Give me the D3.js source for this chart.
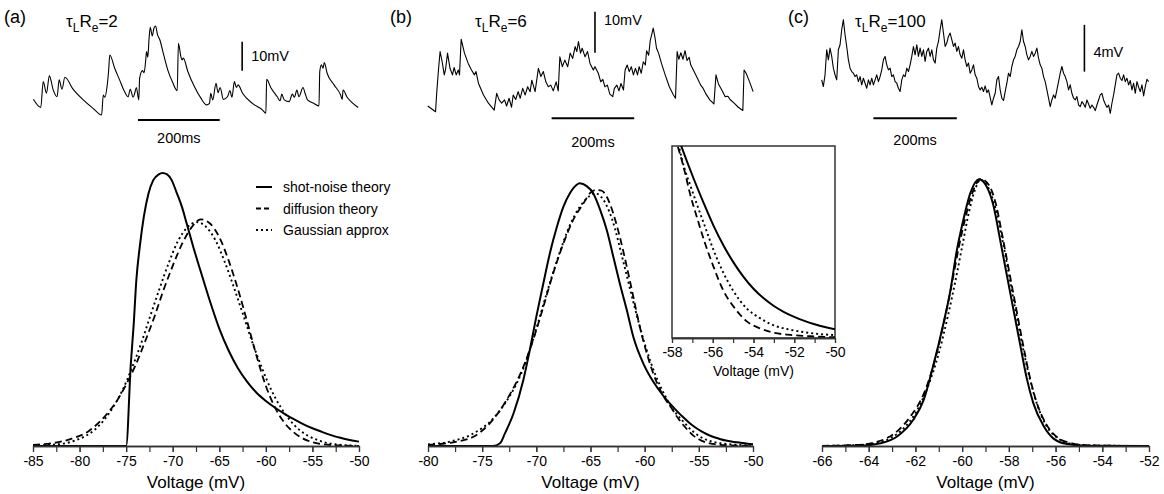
<!DOCTYPE html>
<html>
<head>
<meta charset="utf-8">
<script src="https://cdn.jsdelivr.net/npm/d3@7"></script>
<style>
  body { margin: 0; background: #fff; }
  svg { font-family: "Liberation Sans", Arial, sans-serif; }
</style>
</head>
<body>
<div id="wrapper"></div>
<script>
// DATA
// voltage distributions, [V (mV), density (arbitrary units)]
const shotA = [[-85,0],[-75,0],[-74.5,0.30],[-74.2,0.44],[-73.9,0.61],[-73.5,0.74],[-73.1,0.84],[-72.6,0.925],[-72.1,0.973],[-71.5,0.995],[-71.1,1.0],[-70.6,0.995],[-70.1,0.973],[-69.6,0.93],[-69,0.875],[-68.5,0.815],[-67.8,0.73],[-67,0.64],[-66,0.53],[-65,0.43],[-64,0.35],[-63,0.285],[-62,0.235],[-61,0.195],[-60,0.165],[-59,0.14],[-58,0.118],[-57,0.098],[-56,0.08],[-55,0.065],[-54,0.052],[-53,0.04],[-52,0.03],[-51,0.022],[-50,0.016]]
const diffA = [[-85,0.004],[-83,0.01],[-81,0.025],[-79,0.055],[-77,0.12],[-76,0.165],[-75,0.225],[-74,0.295],[-73,0.38],[-72,0.47],[-71,0.57],[-70,0.66],[-69,0.74],[-68,0.8],[-67,0.83],[-66,0.815],[-65,0.765],[-64,0.68],[-63,0.575],[-62,0.455],[-61,0.33],[-60,0.22],[-59,0.14],[-58,0.085],[-57,0.05],[-56,0.027],[-55,0.014],[-54,0.007],[-52,0.002],[-50,0]]
const gaussA = [[-85,0.002],[-82.4,0.006],[-80.4,0.021],[-78.4,0.059],[-77.4,0.094],[-76.4,0.142],[-75.4,0.204],[-74.4,0.284],[-73.4,0.375],[-72.4,0.477],[-71.4,0.578],[-70.4,0.673],[-69.4,0.753],[-68.4,0.802],[-67.4,0.82],[-66.4,0.802],[-65.4,0.753],[-64.4,0.673],[-63.4,0.578],[-62.4,0.477],[-61.4,0.375],[-60.4,0.284],[-59.4,0.204],[-58.4,0.142],[-57.4,0.094],[-56.4,0.059],[-55.4,0.036],[-54.4,0.021],[-53.4,0.011],[-52.4,0.006],[-50,0.001]]

const shotB = [[-80,0],[-74,0],[-73.35,0.01],[-72.9,0.046],[-72.1,0.12],[-71.2,0.242],[-70.6,0.352],[-70,0.474],[-69.35,0.596],[-68.75,0.706],[-68.1,0.803],[-67.5,0.877],[-66.9,0.926],[-66.3,0.956],[-66,0.962],[-65.35,0.952],[-64.75,0.926],[-64.1,0.864],[-63.5,0.791],[-62.9,0.694],[-62.3,0.596],[-61.65,0.498],[-61.05,0.4],[-60.1,0.3],[-59.2,0.235],[-58.3,0.185],[-57.66,0.155],[-56.95,0.125],[-56.46,0.106],[-55.97,0.088],[-55.48,0.0725],[-55,0.0595],[-54.5,0.048],[-54,0.0385],[-53.5,0.031],[-53,0.025],[-52.5,0.0203],[-52,0.0165],[-51.5,0.0134],[-51,0.0108],[-50.5,0.0086],[-50,0.0068]]
const diffB = [[-80,0.004],[-77.35,0.016],[-75.8,0.034],[-74.3,0.083],[-72.75,0.168],[-71.2,0.29],[-70.3,0.388],[-69.35,0.51],[-68.45,0.632],[-67.5,0.742],[-66.6,0.828],[-65.65,0.889],[-65.05,0.926],[-64.45,0.938],[-63.95,0.935],[-63.5,0.913],[-62.9,0.852],[-62.3,0.767],[-61.65,0.657],[-61.05,0.547],[-60.45,0.437],[-59.8,0.339],[-59.2,0.265],[-58.3,0.185],[-57.36,0.129],[-57.12,0.113],[-56.79,0.095],[-56.38,0.074],[-55.97,0.056],[-55.48,0.037],[-55,0.025],[-54.33,0.013],[-53.68,0.0075],[-53.03,0.0042],[-52.2,0.0024],[-51,0.0012],[-50,0.0006]]
const gaussB = [[-80,0.006],[-78,0.016],[-76,0.042],[-74,0.1],[-73,0.15],[-72,0.215],[-71,0.305],[-70,0.43],[-69,0.565],[-68,0.69],[-67,0.8],[-66,0.875],[-65,0.918],[-64.6,0.926],[-64,0.912],[-63,0.83],[-62,0.68],[-61,0.52],[-60,0.375],[-59,0.26],[-58,0.175],[-57.36,0.131],[-57.12,0.12],[-56.79,0.105],[-56.38,0.087],[-55.97,0.069],[-55.48,0.051],[-55,0.037],[-54.33,0.023],[-53.68,0.0155],[-53.03,0.01],[-52.2,0.0065],[-51.5,0.0045],[-50.7,0.003],[-50,0.0023]]

const shotC = [[-66,0],[-64.2,0.002],[-63.5,0.01],[-62.8,0.034],[-62.1,0.095],[-61.65,0.168],[-61.25,0.29],[-60.8,0.449],[-60.5,0.571],[-60.25,0.706],[-59.95,0.828],[-59.65,0.926],[-59.28,0.977],[-58.95,0.95],[-58.65,0.877],[-58.4,0.767],[-58.1,0.632],[-57.8,0.498],[-57.5,0.364],[-57.25,0.254],[-56.95,0.156],[-56.5,0.071],[-56.1,0.028],[-55.5,0.007],[-54.7,0.001],[-52,0]]
const diffC = [[-66,0.0005],[-64.5,0.004],[-63.8,0.012],[-63.2,0.03],[-62.7,0.06],[-62.2,0.11],[-61.6,0.2],[-61.15,0.32],[-60.75,0.465],[-60.45,0.59],[-60.15,0.725],[-59.85,0.84],[-59.55,0.93],[-59.2,0.978],[-58.85,0.955],[-58.55,0.885],[-58.3,0.78],[-58,0.645],[-57.7,0.51],[-57.4,0.375],[-57.15,0.27],[-56.85,0.17],[-56.4,0.08],[-55.9,0.03],[-55.3,0.01],[-54.5,0.002],[-52,0]]
const gaussC = [[-66,0.0003],[-64.5,0.003],[-63.6,0.012],[-63,0.032],[-62.5,0.065],[-62,0.12],[-61.5,0.21],[-61,0.34],[-60.6,0.48],[-60.3,0.6],[-60,0.73],[-59.7,0.86],[-59.4,0.95],[-59.22,0.975],[-58.9,0.95],[-58.6,0.88],[-58.3,0.765],[-58,0.63],[-57.7,0.49],[-57.4,0.36],[-57.1,0.245],[-56.8,0.155],[-56.4,0.075],[-55.9,0.028],[-55.3,0.008],[-54.5,0.002],[-52,0]]

// membrane voltage traces, [t (ms), mV above the trace minimum]
const traceA = [[1,5.4],[19,2.6],[25,11.5],[33,7.5],[40,13.5],[50,8.4],[59,6.3],[64,12.1],[71,8.9],[78,13],[98,8.9],[123,5.2],[147,2.3],[168,0],[172,6.9],[176,6.1],[181,9.5],[185,15],[188,20.7],[200,16.1],[212,12.1],[224,8.1],[233,6.3],[238,8.9],[245,6.1],[249,7.5],[253,9.5],[259,5.2],[261,12.7],[268,15.3],[272,14.6],[276,19],[278,21.9],[281,19.9],[284,26.1],[287,30.2],[292,27.3],[296,29.9],[300,30.7],[305,27.6],[310,26.1],[320,20.7],[330,15.5],[342,11.2],[353,8.4],[356,24.7],[362,20.1],[365,19],[368,19.6],[379,15],[395,9.8],[411,5.8],[425,3.5],[432,4],[435,7.5],[440,5.2],[448,10.9],[453,7.7],[458,9.5],[466,5.4],[476,6.3],[482,8.4],[487,6.1],[493,11.5],[498,9.5],[502,10.4],[513,7.5],[537,4],[562,1.7],[570,0.6],[572,12.3],[582,9.5],[598,6.3],[605,4.9],[609,7.2],[615,5.2],[627,4.6],[635,7.2],[640,6.1],[646,8.6],[651,6.3],[661,9.5],[666,7.5],[672,5.2],[688,4],[700,3.1],[702,15],[706,17.3],[710,16.1],[713,18.1],[720,14.4],[737,10.4],[753,6.9],[757,5.4],[759,8.6],[769,6.1],[781,4.3],[796,2.6]]
const traceB = [[1,1.7],[20,0.3],[23,5.2],[27,10.5],[31,15],[36,12.5],[41,9.3],[44,10.5],[49,14.6],[55,10.9],[61,9.3],[65,11.1],[70,9.3],[75,10.5],[78,9.3],[82,18],[90,14.6],[99,12.1],[107,10.5],[114,9.3],[118,10.1],[124,7.2],[136,4.4],[148,2.4],[162,0.7],[168,4.8],[174,3.2],[180,2.4],[187,3.2],[192,1.7],[198,3.6],[204,1.4],[208,4.4],[214,3.3],[220,5.2],[225,3.6],[231,6],[237,4.4],[243,6.4],[249,5.2],[253,8],[261,5.2],[269,10.9],[275,8.9],[281,10.1],[287,7.6],[293,6.4],[299,6.8],[305,5.4],[312,7.6],[317,5.4],[321,13.7],[327,11.3],[333,12.9],[340,11.3],[346,14.6],[352,13.3],[358,16.2],[362,15],[366,17.4],[371,14.6],[375,15.8],[382,13.7],[388,15],[394,12.1],[402,10.5],[406,11.3],[414,9.7],[420,7.6],[425,8.2],[430,6.4],[436,6.8],[442,4.6],[449,4],[453,6],[459,6.8],[464,5.4],[469,7.2],[475,5.6],[479,10.5],[484,11.7],[489,10.1],[494,11.3],[499,9.3],[504,10.9],[509,9.3],[513,11.3],[518,9.7],[523,12.5],[528,11.7],[531,15.2],[536,14.1],[540,17.8],[544,19.4],[547,20.7],[551,18.6],[555,15.8],[560,14.6],[567,12.1],[576,9.3],[586,6.4],[596,4.4],[601,3.6],[605,15],[609,13.1],[614,14.7],[619,13.1],[624,15.2],[629,12.8],[634,13.6],[638,11.7],[646,10.1],[654,8.5],[662,6.8],[668,6],[675,4.6],[684,3.2],[694,2.2],[699,9.3],[705,7.1],[714,5.4],[721,4],[728,4.1],[733,3.3],[743,2.4],[753,1.4],[764,0.6],[767,10.5],[772,9.7],[778,8.2],[789,5.2]]
// trace (c) read every 4 ms
const traceCdt = 4
const traceC = [2.86,2.29,3.29,5.43,4.57,5.57,4.86,3.86,3.29,2.86,5.43,5.86,7.14,8.0,6.71,5.71,4.57,3.86,3.57,3.43,3.14,3.29,2.71,3.14,2.43,3.0,2.57,2.14,2.86,2.43,3.0,2.43,2.86,3.29,2.71,3.14,3.71,4.57,4.86,4.14,3.71,3.86,3.14,3.29,2.71,2.57,2.14,1.86,2.86,3.29,3.14,3.86,3.57,4.14,4.86,5.71,5.0,5.86,4.86,5.57,4.86,5.43,4.43,5.29,5.57,4.86,5.43,4.57,4.29,5.57,6.14,7.14,8.0,6.86,5.71,6.0,6.57,6.86,6.29,5.71,6.0,5.29,5.71,5.0,4.71,5.43,4.57,4.0,4.29,3.43,3.71,4.14,3.29,3.0,2.29,2.0,2.23,1.86,2.34,1.77,2.0,1.37,0.71,1.29,1.71,2.86,3.14,2.0,1.29,1.09,1.86,2.57,3.43,3.14,4.0,4.57,4.86,5.43,5.71,6.14,7.14,6.14,5.71,5.0,4.57,4.86,5.29,4.86,5.14,5.57,4.71,4.14,3.86,3.14,2.71,2.0,1.29,0.57,1.14,1.57,1.29,2.0,2.71,3.43,4.0,3.43,3.14,2.71,2.0,2.43,1.71,1.29,1.14,1.43,0.71,0.57,1.0,0.8,0.51,1.14,0.8,0.43,0.71,0.51,0.23,0.71,1.14,1.57,1.71,1.14,0.8,0.51,0.71,0,0.86,1.57,2.43,3.29,3.43,3.0,2.8,3.29,2.71,3.0,2.43,2.8,2.0,2.57,1.71,2.71,2.23,1.86,2.43,1.49,2.29,2.91,2.71]

// tick labels
const ticksA = [-85, -80, -75, -70, -65, -60, -55, -50]
const ticksB = [-80, -75, -70, -65, -60, -55, -50]
const ticksC = [-66, -64, -62, -60, -58, -56, -54, -52]
const ticksInset = [-58, -56, -54, -52, -50]
const legendLabels = ["shot-noise theory", "diffusion theory", "Gaussian approx"]
const panelLabels = ["(a)", "(b)", "(c)"]
const tauValues = ["2", "6", "100"]

// STYLES for the three theories
const styles = [
  { dash: null, width: 2 },
  { dash: "7,4", width: 1.8 },
  { dash: "2,3", width: 1.9 }
]

// DRAW CANVAS
const wrapper = d3.select("#wrapper")
  .append("svg")
  .attr("width", 1164)
  .attr("height", 494)

const fmt = d => String(d)  // keep hyphen minus like the original

function styleAxis(g, fontSize) {
  g.attr("font-family", null).attr("font-size", fontSize)
  g.select(".domain").attr("stroke", "#333").attr("stroke-width", 1.6)
  g.selectAll(".tick line").attr("stroke", "#333").attr("stroke-width", 1.2)
  g.selectAll(".tick text").attr("fill", "#000")
}

function drawDistribution(cfg) {
  const x = d3.scaleLinear().domain(cfg.domain).range(cfg.range)
  const y = d3.scaleLinear().domain([0, 1]).range([446, 173])
  const line = d3.line().x(d => x(d[0])).y(d => y(d[1])).curve(d3.curveMonotoneX)

  cfg.series.forEach((s, i) => {
    wrapper.append("path")
      .datum(s)
      .attr("d", line)
      .attr("fill", "none")
      .attr("stroke", "#000")
      .attr("stroke-width", styles[i].width)
      .attr("stroke-dasharray", styles[i].dash)
  })

  // minor ticks, then labelled ticks
  const minorAxis = wrapper.append("g")
    .attr("transform", "translate(0,446)")
    .call(d3.axisBottom(x).tickValues(d3.range(cfg.domain[0], cfg.domain[1] + 0.01, cfg.minorStep)).tickFormat("").tickSize(6).tickSizeOuter(0))
  styleAxis(minorAxis, 14)
  const majorAxis = wrapper.append("g")
    .attr("transform", "translate(0,446)")
    .call(d3.axisBottom(x).tickValues(cfg.ticks).tickFormat(fmt).tickSize(6).tickPadding(4).tickSizeOuter(0))
  styleAxis(majorAxis, 14)

  wrapper.append("text")
    .attr("x", (cfg.range[0] + cfg.range[1]) / 2)
    .attr("y", 488)
    .attr("text-anchor", "middle")
    .attr("font-size", 17)
    .text("Voltage (mV)")
  return x
}

function drawTrace(cfg) {
  const x = d3.scaleLinear().domain([0, 800]).range([cfg.x0, cfg.x0 + 800 * cfg.pxPerMs])
  const y = d3.scaleLinear().domain([0, 10]).range([cfg.y0, cfg.y0 - 10 * cfg.pxPerMv])

  wrapper.append("path")
    .datum(cfg.data)
    .attr("d", d3.line().x(d => x(d[0])).y(d => y(d[1])).curve(cfg.curve))
    .attr("fill", "none")
    .attr("stroke", "#000")
    .attr("stroke-width", 1.1)
    .attr("stroke-linejoin", "round")

  // 200 ms scale bar
  wrapper.append("line")
    .attr("x1", x(cfg.tBar)).attr("x2", x(cfg.tBar + 200))
    .attr("y1", cfg.barY).attr("y2", cfg.barY)
    .attr("stroke", "#000").attr("stroke-width", 2)
  wrapper.append("text")
    .attr("x", x(cfg.tBar + 100)).attr("y", cfg.barLabelY)
    .attr("text-anchor", "middle").attr("font-size", 14.5)
    .text("200ms")

  // voltage scale bar
  wrapper.append("line")
    .attr("x1", x(cfg.vBarT)).attr("x2", x(cfg.vBarT))
    .attr("y1", y(cfg.vBarV)).attr("y2", y(cfg.vBarV + cfg.mv))
    .attr("stroke", "#000").attr("stroke-width", 1.6)
  wrapper.append("text")
    .attr("x", x(cfg.vBarT) + 9).attr("y", cfg.mvLabelY)
    .attr("font-size", 14.5)
    .text(cfg.mv + "mV")
}

function drawHeader(i, xLabel, xTau) {
  wrapper.append("text")
    .attr("x", xLabel).attr("y", 23)
    .attr("font-size", 18)
    .text(panelLabels[i])
  const t = wrapper.append("text")
    .attr("x", xTau).attr("y", 27)
    .attr("font-size", 17)
  t.append("tspan").text("τ")
  t.append("tspan").attr("font-size", 12).attr("dy", 5).text("L")
  t.append("tspan").attr("dy", -5).text("R")
  t.append("tspan").attr("font-size", 12).attr("dy", 5).text("e")
  t.append("tspan").attr("dy", -5).text("=" + tauValues[i])
}

// PANEL (a)
drawHeader(0, 4, 66)
drawTrace({ data: traceA, x0: 33, pxPerMs: 0.4085, y0: 115, pxPerMv: 2.9, curve: d3.curveMonotoneX,
  tBar: 257, barY: 120, barLabelY: 143, vBarT: 512, vBarV: 15.3, mv: 10, mvLabelY: 61 })
drawDistribution({ domain: [-85, -50], range: [33, 359], ticks: ticksA, minorStep: 2.5, series: [shotA, diffA, gaussA] })

// legend
legendLabels.forEach((label, i) => {
  const ly = 187 + i * 21.5
  wrapper.append("line")
    .attr("x1", 256).attr("x2", 272).attr("y1", ly).attr("y2", ly)
    .attr("stroke", "#000")
    .attr("stroke-width", styles[i].width)
    .attr("stroke-dasharray", i === 1 ? "5,3" : styles[i].dash)
  wrapper.append("text")
    .attr("x", 283).attr("y", ly + 5)
    .attr("font-size", 14)
    .text(label)
})

// PANEL (b)
drawHeader(1, 390, 475)
drawTrace({ data: traceB, x0: 427.3, pxPerMs: 0.413, y0: 113, pxPerMv: 4.1, curve: d3.curveLinear,
  tBar: 301, barY: 118.3, barLabelY: 147, vBarT: 406, vBarV: 14.7, mv: 10, mvLabelY: 25 })
drawDistribution({ domain: [-80, -50], range: [428, 753], ticks: ticksB, minorStep: 2.5, series: [shotB, diffB, gaussB] })

// PANEL (c)
drawHeader(2, 788, 855)
const traceCPoints = traceC.map((v, i) => [i * traceCdt, v])
drawTrace({ data: traceCPoints, x0: 821.7, pxPerMs: 0.417, y0: 113.3, pxPerMv: 11.7, curve: d3.curveLinear,
  tBar: 124, barY: 118.3, barLabelY: 145, vBarT: 630, vBarV: 3.56, mv: 4, mvLabelY: 57 })
drawDistribution({ domain: [-66, -52], range: [822, 1149], ticks: ticksC, minorStep: 1, series: [shotC, diffC, gaussC] })

// INSET: tails of panel (b)
const inset = { left: 672, right: 835, top: 146, bottom: 338 }
const xi = d3.scaleLinear().domain([-58, -50]).range([inset.left, inset.right])
const yi = d3.scaleLinear().domain([0, 0.15]).range([inset.bottom, inset.top])

wrapper.append("rect")
  .attr("x", inset.left).attr("y", inset.top)
  .attr("width", inset.right - inset.left).attr("height", inset.bottom - inset.top)
  .attr("fill", "#fff")
  .attr("stroke", "#333").attr("stroke-width", 1.5)

wrapper.append("clipPath").attr("id", "insetClip")
  .append("rect")
  .attr("x", inset.left).attr("y", inset.top)
  .attr("width", inset.right - inset.left).attr("height", inset.bottom - inset.top)

const insetLine = d3.line().x(d => xi(d[0])).y(d => yi(d[1])).curve(d3.curveMonotoneX)
const insetG = wrapper.append("g").attr("clip-path", "url(#insetClip)")
;[shotB, diffB, gaussB].forEach((s, i) => {
  insetG.append("path")
    .datum(s)
    .attr("d", insetLine)
    .attr("fill", "none")
    .attr("stroke", "#000")
    .attr("stroke-width", styles[i].width)
    .attr("stroke-dasharray", styles[i].dash)
})

const insetMinor = wrapper.append("g")
  .attr("transform", `translate(0,${inset.bottom})`)
  .call(d3.axisBottom(xi).tickValues(d3.range(-58, -49.99, 1)).tickFormat("").tickSize(5).tickSizeOuter(0))
styleAxis(insetMinor, 14)
const insetMajor = wrapper.append("g")
  .attr("transform", `translate(0,${inset.bottom})`)
  .call(d3.axisBottom(xi).tickValues(ticksInset).tickFormat(fmt).tickSize(5).tickPadding(4).tickSizeOuter(0))
styleAxis(insetMajor, 14)

wrapper.append("text")
  .attr("x", (inset.left + inset.right) / 2)
  .attr("y", 376)
  .attr("text-anchor", "middle")
  .attr("font-size", 14)
  .text("Voltage (mV)")
</script>
</body>
</html>
